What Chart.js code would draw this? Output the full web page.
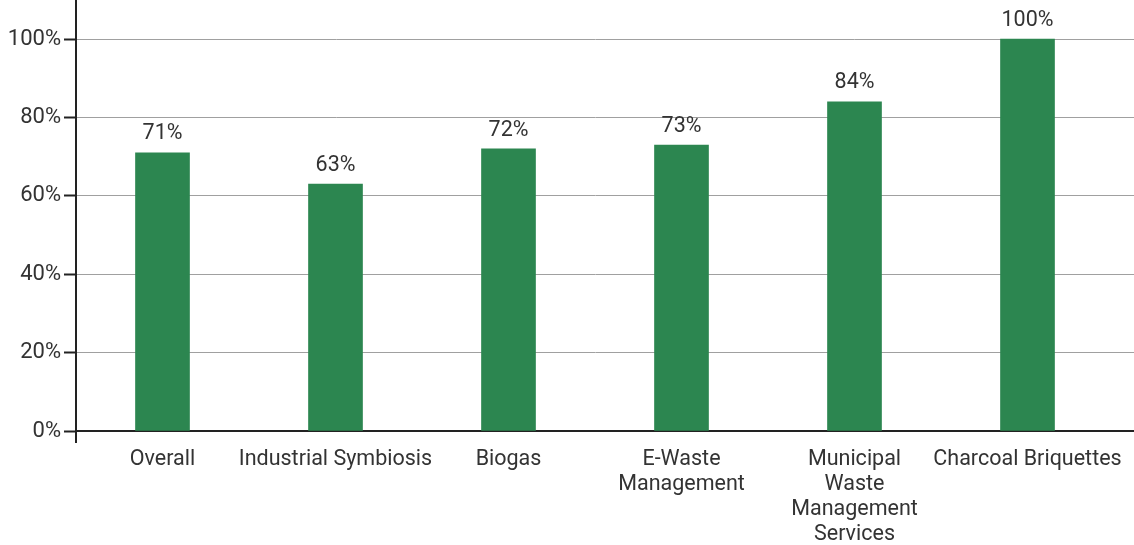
<!DOCTYPE html>
<html>
<head>
<meta charset="utf-8">
<script src="https://cdn.jsdelivr.net/npm/chart.js@4"></script>
<style>
  html, body { margin: 0; padding: 0; background: #fff; }
  #wrap { width: 1134px; height: 545px; }
</style>
</head>
<body>
<div id="wrap"><canvas id="adoptionBar"></canvas></div>
<script>
const categories = [
    "Overall", "Industrial Symbiosis", "Biogas", ["E-Waste", "Management"],
    ["Municipal", "Waste", "Management", "Services"], "Charcoal Briquettes"
];
const shareValues = [71, 63, 72, 73, 84, 100];
const yTicks = [0, 20, 40, 60, 80, 100];

const textColor = "#333333";
const axisColor = "#222222";
const gridColor = "#a0a0a0";

// value labels above the bars
const valueLabels = {
    id: "valueLabels",
    afterDatasetsDraw(chart) {
        const ctx = chart.ctx;
        const meta = chart.getDatasetMeta(0);
        ctx.save();
        ctx.font = "21.5px Roboto";
        ctx.fillStyle = textColor;
        ctx.textAlign = "center";
        ctx.textBaseline = "bottom";
        meta.data.forEach((bar, i) => {
            ctx.fillText(shareValues[i] + "%", bar.x, bar.y - 8);
        });
        ctx.restore();
    }
};

// grid + x axis run on to the right edge, y axis pokes below the x axis
const extendLines = {
    id: "extendLines",
    beforeDatasetsDraw(chart) {
        const ctx = chart.ctx;
        const area = chart.chartArea;
        const y = chart.scales.y;
        ctx.save();
        ctx.lineWidth = 1;
        ctx.strokeStyle = gridColor;
        yTicks.forEach(v => {
            if (v === 0) return;
            const py = Math.round(y.getPixelForValue(v) - 0.5) + 0.5;
            ctx.beginPath();
            ctx.moveTo(area.right - 1, py);
            ctx.lineTo(chart.width, py);
            ctx.stroke();
        });
        ctx.strokeStyle = axisColor;
        ctx.lineWidth = 2;
        const py0 = Math.round(y.getPixelForValue(0));
        ctx.beginPath();
        ctx.moveTo(area.right - 1, py0);
        ctx.lineTo(chart.width, py0);
        ctx.moveTo(Math.round(area.left), py0);
        ctx.lineTo(Math.round(area.left), py0 + 12);
        ctx.stroke();
        ctx.restore();
    }
};

const adoptionBar = document.getElementById("adoptionBar");
new Chart(adoptionBar, {
    type: 'bar',
    data: {
        labels: categories,
        datasets: [{
            data: shareValues,
            backgroundColor: "#2c8650",
            barThickness: 54,
        }]
    },
    options: {
        responsive: true,
        maintainAspectRatio: false,
        animation: false,
        layout: {
            padding: { top: 0, right: 20, bottom: 0, left: 0 }
        },
        plugins: {
            legend: false,
            tooltip: {
                enabled: false
            }
        },
        scales: {
            x: {
                grid: {
                    display: false,
                },
                border: {
                    color: axisColor,
                    width: 2,
                },
                ticks: {
                    autoSkip: false,
                    maxRotation: 0,
                    minRotation: 0,
                    color: textColor,
                    font: { family: "Roboto", size: 21.5, lineHeight: 1.17 },
                    padding: 8,
                },
                afterFit(scale) {
                    scale.height = 114;
                }
            },
            y: {
                min: 0,
                max: 110,
                grid: {
                    color: gridColor,
                    tickColor: axisColor,
                    tickLength: 12,
                    tickWidth: 2,
                },
                border: {
                    color: axisColor,
                    width: 2,
                },
                ticks: {
                    stepSize: 20,
                    includeBounds: false,
                    color: textColor,
                    font: { family: "Roboto", size: 22 },
                    padding: 3,
                    callback: v => v + "%",
                },
                afterFit(scale) {
                    scale.width = 76;
                    scale.paddingTop = 0;
                    scale.paddingBottom = 0;
                }
            }
        }
    },
    plugins: [valueLabels, extendLines],
});
</script>
</body>
</html>
